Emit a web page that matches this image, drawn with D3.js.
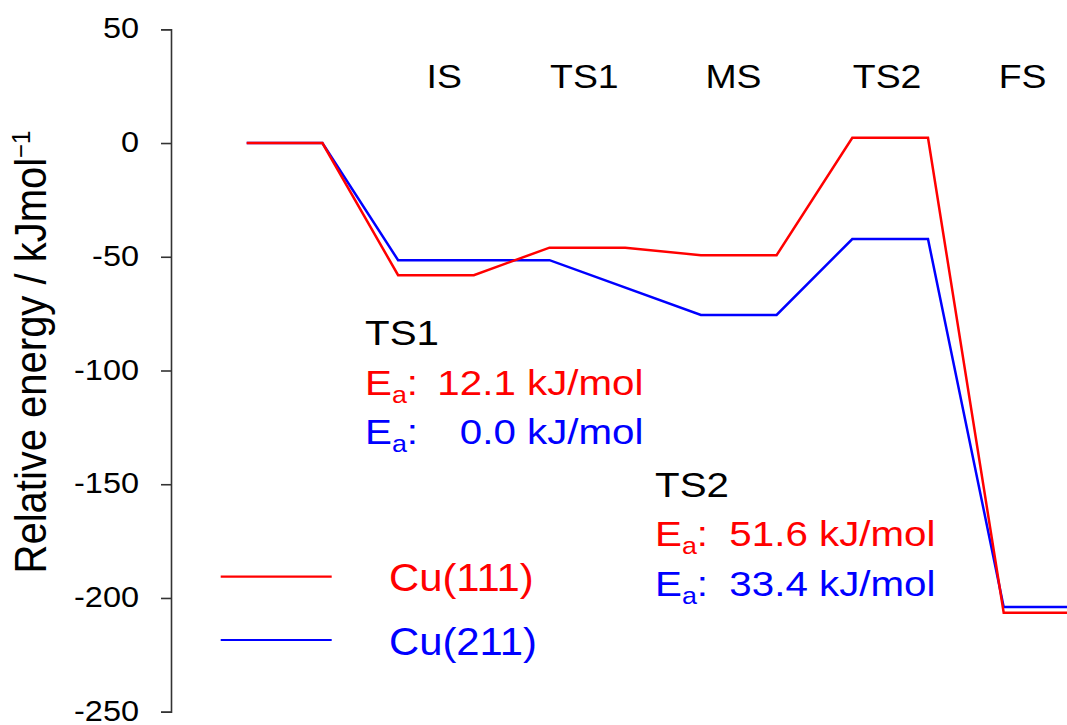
<!DOCTYPE html>
<html>
<head>
<meta charset="utf-8">
<script src="https://cdn.jsdelivr.net/npm/d3@7"></script>
<style>
  html, body { margin: 0; padding: 0; background: #fff; }
  svg { display: block; }
  text { font-family: "Liberation Sans", Arial, Helvetica, sans-serif; }
</style>
</head>
<body>
<svg id="chart" width="1067" height="725"></svg>
<script>
// ---------------- data ----------------
const stageLabels = ["IS", "TS1", "MS", "TS2", "FS"];
// x positions are step indices along the reaction coordinate
const redSteps  = [0, 1, 2, 3, 4, 5, 6, 7, 8, 9, 10, 11];
const redEnergy = [0, 0, -58.1, -58.1, -46.0, -46.0, -49.3, -49.3, 2.3, 2.3, -206.5, -206.5];
const blueSteps  = [0, 1, 2, 3, 4, 6, 7, 8, 9, 10, 11];
const blueEnergy = [0, 0, -51.5, -51.5, -51.5, -75.6, -75.6, -42.2, -42.2, -204.0, -204.0];
const seriesNames = ["Cu(111)", "Cu(211)"];
const yTicks = [50, 0, -50, -100, -150, -200, -250];
const barrierNames = ["TS1", "TS2"];
const barrierRed  = ["12.1", "51.6"];
const barrierBlue = ["0.0", "33.4"];

// ---------------- layout ----------------
const W = 1067, H = 725;
const axisX = 171;
const stretch = 1.1;
const colors = { red: "#ff0000", blue: "#0000ff" };

const svg = d3.select("#chart");
const x = d3.scaleLinear().domain([0, 11]).range([246.7, 246.7 + 11 * 75.7]);
const y = d3.scaleLinear().domain([-250, 50]).range([711.7, 29.3]);

// y axis
const yAxis = d3.axisLeft(y).tickValues(yTicks).tickSize(10).tickSizeOuter(10)
  .tickFormat(d => d3.format("d")(d).replace("−", "-"));
const gAxis = svg.append("g").attr("transform", `translate(${axisX},0)`).call(yAxis);
gAxis.select(".domain").attr("stroke", "#333").attr("stroke-width", 1.6);
gAxis.selectAll(".tick line").attr("stroke", "#333").attr("stroke-width", 1.6);
gAxis.selectAll(".tick text")
  .attr("x", 0).attr("dy", "0.29em")
  .attr("transform", `translate(-32,0) scale(${stretch},1)`)
  .attr("font-size", 29.5).attr("fill", "#000")
  .style("font-family", '"Liberation Sans", Arial, sans-serif');

// axis title
const title = svg.append("text")
  .attr("transform", `translate(46,352) rotate(-90) scale(1,${stretch})`)
  .attr("text-anchor", "middle")
  .attr("font-size", 40).attr("fill", "#000");
title.append("tspan").text("Relative energy / kJmol");
title.append("tspan").attr("dy", -15).attr("font-size", 24).text("\u22121");

// clip to the drawing area
svg.append("clipPath").attr("id", "clip").append("rect")
  .attr("x", axisX).attr("y", 0).attr("width", W - axisX).attr("height", H);

const line = d3.line().x(d => x(d[0])).y(d => y(d[1]));
const plot = svg.append("g").attr("clip-path", "url(#clip)");
plot.append("path")
  .datum(d3.zip(blueSteps, blueEnergy))
  .attr("d", line).attr("fill", "none")
  .attr("stroke", colors.blue).attr("stroke-width", 2.5).attr("stroke-linejoin", "miter");
plot.append("path")
  .datum(d3.zip(redSteps, redEnergy))
  .attr("d", line).attr("fill", "none")
  .attr("stroke", colors.red).attr("stroke-width", 2.5).attr("stroke-linejoin", "miter");

// stage labels
const stagePos = [2.61, 4.46, 6.43, 8.46, 10.25];
svg.selectAll(".stage").data(stageLabels).join("g")
  .attr("transform", (d, i) => `translate(${x(stagePos[i])},88) scale(${stretch},1)`)
  .append("text").attr("text-anchor", "middle")
  .attr("font-size", 34).attr("fill", "#000").text(d => d);

// barrier annotations
const annStretch = 1.12;
const annPos = [
  { left: 365, right: 643.5, base: 345 },
  { left: 655, right: 935.5, base: 496.7 }
];
const lineGap = 49.5;
barrierNames.forEach((name, i) => {
  const p = annPos[i];
  svg.append("g").attr("transform", `translate(${p.left},${p.base}) scale(${annStretch},1)`)
    .append("text").attr("font-size", 36).attr("fill", "#000").text(name);
  [[barrierRed[i], colors.red], [barrierBlue[i], colors.blue]].forEach(([val, col], k) => {
    const by = p.base + lineGap * (k + 1);
    const t = svg.append("g").attr("transform", `translate(${p.left},${by}) scale(${annStretch},1)`)
      .append("text").attr("font-size", 36).attr("fill", col);
    t.append("tspan").text("E");
    t.append("tspan").attr("font-size", 24).attr("dy", 8).text("a");
    t.append("tspan").attr("dy", -8).text(":");
    svg.append("g").attr("transform", `translate(${p.right},${by}) scale(${annStretch},1)`)
      .append("text").attr("font-size", 36).attr("fill", col)
      .attr("text-anchor", "end").text(`${val} kJ/mol`);
  });
});

// legend
const legendRows = [
  { name: seriesNames[0], color: colors.red, y: 576.7 },
  { name: seriesNames[1], color: colors.blue, y: 640 }
];
legendRows.forEach(r => {
  svg.append("line").attr("x1", 220.7).attr("x2", 331.7).attr("y1", r.y).attr("y2", r.y)
    .attr("stroke", r.color).attr("stroke-width", 2.2);
  svg.append("g").attr("transform", `translate(389,${r.y + 14.5}) scale(${stretch},1)`)
    .append("text").attr("font-size", 38).attr("fill", r.color).text(r.name);
});
</script>
</body>
</html>
